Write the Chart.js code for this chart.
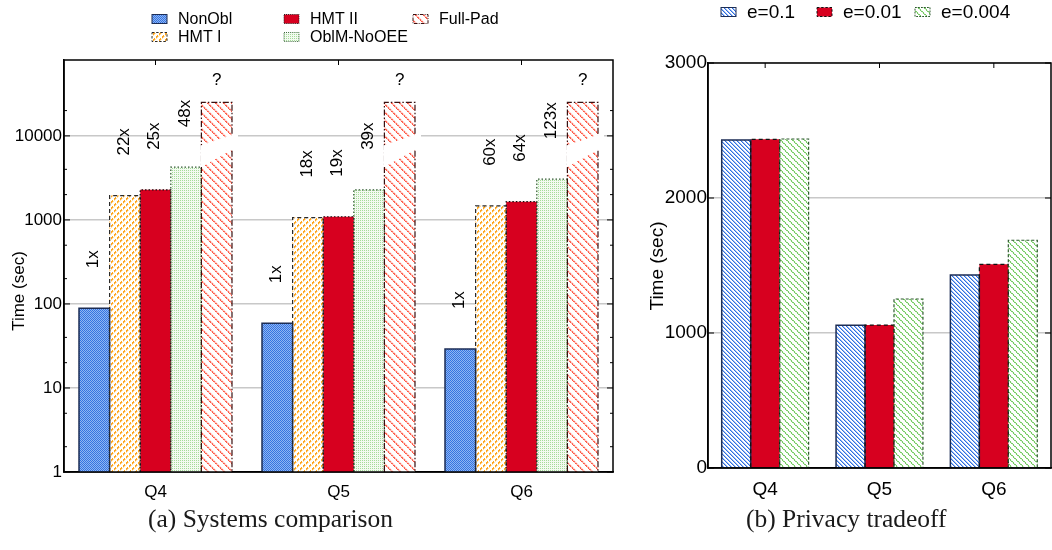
<!DOCTYPE html>
<html>
<head>
<meta charset="utf-8">
<script src="https://cdn.jsdelivr.net/npm/chart.js@4.4.1/dist/chart.umd.min.js"></script>
<style>
  body { margin: 0; background: #fff; width: 1052px; height: 550px; position: relative; overflow: hidden; }
  canvas { position: absolute; top: 0; }
  #left { left: 0; width: 640px; height: 550px; }
  #right { left: 640px; width: 412px; height: 550px; }
  .caption { position: absolute; font-family: "Liberation Serif", "DejaVu Serif", serif; font-size: 25.5px;
             line-height: 28px; color: #1a1a1a; white-space: nowrap; }
</style>
</head>
<body>
<canvas id="left" width="640" height="550"></canvas>
<canvas id="right" width="412" height="550"></canvas>
<div class="caption" style="left:148px; top:505px">(a) Systems comparison</div>
<div class="caption" style="left:746px; top:505px">(b) Privacy tradeoff</div>

<script>
const FONT = '"Liberation Sans", Arial, sans-serif';
Chart.defaults.font.family = FONT;
Chart.defaults.color = '#000';

const queries = ['Q4', 'Q5', 'Q6'];

// (a) systems comparison, time in seconds
const nonObl    = [89, 59, 29];
const hmt1      = [1950, 1065, 1470];
const hmt2      = [2280, 1090, 1650];
const oblmNoOee = [4240, 2280, 3050];
const fullPad   = [25000, 25000, 25000];
const slowdown = [
  ['1x', '1x', '1x'],
  ['22x', '18x', '60x'],
  ['25x', '19x', '64x'],
  ['48x', '39x', '123x'],
  ['?', '?', '?']
];
const logTicks = [1, 10, 100, 1000, 10000];

// (b) privacy tradeoff, time in seconds
const eps01   = [2430, 1057, 1430];
const eps001  = [2435, 1059, 1509];
const eps0004 = [2437, 1252, 1687];
const linTicks = [0, 1000, 2000, 3000];

// small pixel tiles used as hatch fills
function tile(ctx, size, paint) {
  const c = document.createElement('canvas');
  c.width = c.height = size;
  const g = c.getContext('2d');
  g.fillStyle = '#fff';
  g.fillRect(0, 0, size, size);
  for (let y = 0; y < size; y++) {
    for (let x = 0; x < size; x++) {
      const col = paint(x, y);
      if (col) { g.fillStyle = col; g.fillRect(x, y, 1, 1); }
    }
  }
  return ctx.createPattern(c, 'repeat');
}

// dashed / dotted bar outlines (bar elements have no borderDash)
const outlines = {
  id: 'outlines',
  afterDatasetsDraw(chart, args, opts) {
    const ctx = chart.ctx;
    chart.data.datasets.forEach((ds, i) => {
      const e = opts.edges[i];
      chart.getDatasetMeta(i).data.forEach(bar => {
        const l = bar.x - bar.width / 2, r = bar.x + bar.width / 2;
        ctx.save();
        ctx.strokeStyle = e.color;
        ctx.lineWidth = e.width;
        ctx.setLineDash(e.dash);
        ctx.beginPath();
        ctx.moveTo(l, bar.base);
        ctx.lineTo(l, bar.y);
        ctx.lineTo(r, bar.y);
        ctx.lineTo(r, bar.base);
        ctx.stroke();
        ctx.restore();
      });
    });
  }
};

// box around the plot with inward ticks, plus the y axis caption
const frame = {
  id: 'frame',
  afterDraw(chart, args, opts) {
    const { ctx, chartArea: a } = chart;
    const ys = chart.scales.y, xs = chart.scales.x;
    ctx.save();
    ctx.strokeStyle = '#000';
    ctx.lineWidth = 1.5;
    ctx.setLineDash([]);
    ctx.strokeRect(a.left, a.top, a.right - a.left, a.bottom - a.top);
    ctx.lineWidth = 1;
    ctx.beginPath();
    opts.major.forEach(v => {
      const y = ys.getPixelForValue(v);
      ctx.moveTo(a.left, y); ctx.lineTo(a.left + 6, y);
      ctx.moveTo(a.right, y); ctx.lineTo(a.right - 6, y);
    });
    opts.minor.forEach(v => {
      const y = ys.getPixelForValue(v);
      ctx.moveTo(a.left, y); ctx.lineTo(a.left + 3, y);
      ctx.moveTo(a.right, y); ctx.lineTo(a.right - 3, y);
    });
    chart.data.labels.forEach((lab, i) => {
      const x = xs.getPixelForValue(i);
      ctx.moveTo(x, a.top); ctx.lineTo(x, a.top + 5);
    });
    ctx.stroke();

    // "Time (sec)" rotated along the left side
    ctx.translate(opts.titleX, opts.titleY);
    ctx.rotate(-Math.PI / 2);
    ctx.font = opts.titleSize + 'px ' + FONT;
    ctx.fillStyle = '#000';
    ctx.textAlign = 'center';
    ctx.textBaseline = 'middle';
    ctx.fillText('Time (sec)', 0, 0);
    ctx.restore();
  }
};

// legend drawn by hand: column-major grid like the original figure
const keyBoxes = {
  id: 'keyBoxes',
  afterDraw(chart, args, opts) {
    const ctx = chart.ctx;
    ctx.save();
    ctx.font = opts.size + 'px ' + FONT;
    ctx.textBaseline = 'middle';
    chart.data.datasets.forEach((ds, k) => {
      const col = Math.floor(k / opts.rows), row = k % opts.rows;
      const x = opts.cols[col], y = opts.ys[row];
      const e = chart.options.plugins.outlines.edges[k];
      ctx.fillStyle = ds.backgroundColor;
      ctx.fillRect(x, y - 4.5, 15, 9);
      ctx.strokeStyle = e.color;
      ctx.lineWidth = 1;
      ctx.setLineDash(e.dash.map(d => d * 0.6));
      ctx.strokeRect(x, y - 4.5, 15, 9);
      ctx.setLineDash([]);
      ctx.fillStyle = '#000';
      ctx.fillText(ds.label, x + 26, y + 1);
    });
    ctx.restore();
  }
};

// slowdown labels and the axis break on the Full-Pad bars
const annotate = {
  id: 'annotate',
  afterDatasetsDraw(chart) {
    const ctx = chart.ctx;
    const ys = chart.scales.y;
    const last = chart.data.datasets.length - 1;
    ctx.save();
    // break marks
    const y0 = ys.getPixelForValue(10000);
    chart.getDatasetMeta(last).data.forEach(bar => {
      const l = bar.x - bar.width / 2 - 1, r = bar.x + bar.width / 2 + 6;
      ctx.fillStyle = '#fff';
      ctx.beginPath();
      ctx.moveTo(l, y0 + 9.5);
      ctx.lineTo(r, y0 - 3);
      ctx.lineTo(r, y0 + 10.5);
      ctx.lineTo(l, y0 + 31.5);
      ctx.closePath();
      ctx.fill();
    });
    ctx.fillStyle = '#000';
    ctx.font = '17px ' + FONT;
    chart.data.datasets.forEach((ds, i) => {
      chart.getDatasetMeta(i).data.forEach((bar, j) => {
        const txt = slowdown[i][j];
        if (i === last) {
          ctx.textAlign = 'center';
          ctx.textBaseline = 'bottom';
          ctx.fillText(txt, bar.x, bar.y - 14);
        } else {
          ctx.save();
          ctx.translate(bar.x - 1, bar.y - 40);
          ctx.rotate(-Math.PI / 2);
          ctx.textAlign = 'left';
          ctx.textBaseline = 'middle';
          ctx.fillText(txt, 0, 0);
          ctx.restore();
        }
      });
    });
    ctx.restore();
  }
};

// ---------- (a) Systems comparison ----------
const lctx = document.getElementById('left').getContext('2d');
const fillNonObl = tile(lctx, 2, (x, y) => (x + y) % 2 === 0 ? '#3574e0' : '#8fb5f3');
const fillHmt1 = tile(lctx, 6, (x, y) => ((x + y) % 6 < 2 && x % 3 !== 2) ? '#ffa620' : ((x + y) % 6 === 2 ? '#ffe2b0' : null));
const fillOblm = tile(lctx, 2, (x, y) => (x === 0 && y === 0) ? '#a6dc9a' : '#f3faf1');
const fillFullPad = tile(lctx, 8, (x, y) => {
  const d = (x - y + 16) % 8;
  if (d === 0) return (x + y) % 3 === 0 ? '#ffb3aa' : '#ff5744';
  if (d === 1) return (x % 2 === 0) ? '#ff6f5f' : '#ffc2ba';
  if (d === 2) return '#ffe0dc';
  return null;
});

new Chart(lctx, {
  type: 'bar',
  data: {
    labels: queries,
    datasets: [
      { label: 'NonObl', data: nonObl, backgroundColor: fillNonObl },
      { label: 'HMT I', data: hmt1, backgroundColor: fillHmt1 },
      { label: 'HMT II', data: hmt2, backgroundColor: '#d7001f' },
      { label: 'OblM-NoOEE', data: oblmNoOee, backgroundColor: fillOblm },
      { label: 'Full-Pad', data: fullPad, backgroundColor: fillFullPad }
    ]
  },
  options: {
    responsive: false,
    animation: false,
    devicePixelRatio: 1,
    layout: { padding: { top: 60, right: 27, left: 0, bottom: 0 } },
    datasets: { bar: { categoryPercentage: 0.836, barPercentage: 1, borderWidth: 0 } },
    plugins: {
      legend: { display: false },
      tooltip: { enabled: false },
      outlines: {
        edges: [
          { color: '#1c2d55', dash: [], width: 1.5 },
          { color: '#2a2a2a', dash: [4, 3], width: 1.2 },
          { color: '#111', dash: [1.5, 2], width: 1.2 },
          { color: '#2f5a2f', dash: [1.5, 2], width: 1.2 },
          { color: '#3a1010', dash: [6, 2, 1.5, 2], width: 1.2 }
        ]
      },
      frame: { major: logTicks, minor: [2, 5, 20, 40, 200, 500, 2000, 4000, 20000],
               titleX: 19, titleY: 291, titleSize: 17 },
      keyBoxes: { size: 16, rows: 2, cols: [152, 284, 413], ys: [19, 37] }
    },
    scales: {
      x: {
        afterFit: s => { s.height = 78; },
        ticks: { font: { size: 17 }, color: '#000', padding: 10 },
        grid: { display: false, drawTicks: false },
        border: { color: '#000', width: 1.5 }
      },
      y: {
        type: 'logarithmic',
        min: 1,
        max: 80000,
        afterBuildTicks: s => { s.ticks = logTicks.map(v => ({ value: v })); },
        afterFit: s => { s.width = 64; },
        ticks: { font: { size: 17 }, color: '#000', padding: 2, callback: v => String(v) },
        grid: { color: '#c8c8c8', lineWidth: 1.5, drawTicks: false },
        border: { color: '#000', width: 1.5 }
      }
    }
  },
  plugins: [outlines, annotate, frame, keyBoxes]
});

// ---------- (b) Privacy tradeoff ----------
const rctx = document.getElementById('right').getContext('2d');
const fillE01 = tile(rctx, 4, (x, y) => {
  const d = (x - y + 8) % 4;
  return d === 0 ? '#2f6fe0' : (d === 1 ? '#9dbcf4' : null);
});
const fillE0004 = tile(rctx, 6, (x, y) => {
  const d = (x - y + 12) % 6;
  if (d < 2) return (x + y) % 3 === 0 ? '#d4efcc' : '#79cc67';
  return null;
});

new Chart(rctx, {
  type: 'bar',
  data: {
    labels: queries,
    datasets: [
      { label: 'e=0.1', data: eps01, backgroundColor: fillE01 },
      { label: 'e=0.01', data: eps001, backgroundColor: '#d7001f' },
      { label: 'e=0.004', data: eps0004, backgroundColor: fillE0004 }
    ]
  },
  options: {
    responsive: false,
    animation: false,
    devicePixelRatio: 1,
    layout: { padding: { top: 63, right: 1, left: 0, bottom: 0 } },
    datasets: { bar: { categoryPercentage: 0.76, barPercentage: 1, borderWidth: 0 } },
    plugins: {
      legend: { display: false },
      tooltip: { enabled: false },
      outlines: {
        edges: [
          { color: '#1c2d55', dash: [], width: 1.5 },
          { color: '#111', dash: [4, 3], width: 1.2 },
          { color: '#2d5a2d', dash: [3, 2], width: 1.2 }
        ]
      },
      frame: { major: linTicks, minor: [], titleX: 18, titleY: 266, titleSize: 19 },
      keyBoxes: { size: 19, rows: 1, cols: [81, 177, 275], ys: [12] }
    },
    scales: {
      x: {
        afterFit: s => { s.height = 82; },
        ticks: { font: { size: 19 }, color: '#000', padding: 10 },
        grid: { display: false, drawTicks: false },
        border: { color: '#000', width: 1.5 }
      },
      y: {
        min: 0,
        max: 3000,
        afterBuildTicks: s => { s.ticks = linTicks.map(v => ({ value: v })); },
        afterFit: s => { s.width = 68; },
        ticks: { font: { size: 19 }, color: '#000', padding: 1, callback: v => String(v) },
        grid: { color: '#c8c8c8', lineWidth: 1.5, drawTicks: false },
        border: { color: '#000', width: 1.5 }
      }
    }
  },
  plugins: [outlines, frame, keyBoxes]
});
</script>
</body>
</html>
